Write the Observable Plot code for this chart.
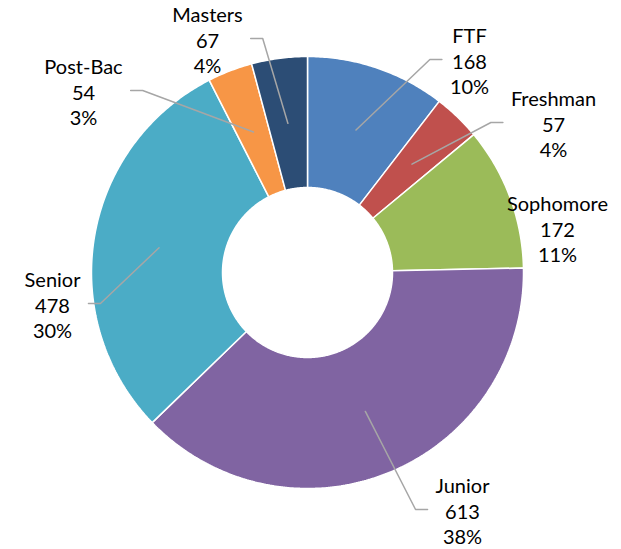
<!DOCTYPE html>
<html><head><meta charset="utf-8">
<script src="https://cdn.jsdelivr.net/npm/d3@7"></script>
<script src="https://cdn.jsdelivr.net/npm/@observablehq/plot@0.6"></script>
<style>body{margin:0;background:#fff}</style>
</head><body><div id="chart"></div>
<script>
// Data
const categories = ["FTF","Freshman","Sophomore","Junior","Senior","Post-Bac","Masters"];
const counts = [168,57,172,613,478,54,67];
const colors = ["#4F81BD","#C0504D","#9BBB59","#8064A2","#4BACC6","#F79646","#2C4D75"];
// Label layout (pixel positions of the middle text line)
const labelX = [469,553,557,462,52,83,207];
const labelY = [60,123,228,510,304,91,39];
const hasLeader = [true,true,false,true,true,true,true];

const W = 621, H = 549, cx = 307, cy = 272, rOuter = 216, rInner = 85;
const FONT = 20, FAMILY = "Lato";

const total = d3.sum(counts);
const arcs = d3.pie().sort(null).value(d => d)(counts);
const px = (r, a) => cx + r * Math.sin(a);
const py = (r, a) => cy - r * Math.cos(a);

const sliceMarks = arcs.map((arc, i) => {
  const pts = [];
  const n = Math.max(4, Math.ceil((arc.endAngle - arc.startAngle) / 0.01));
  for (let k = 0; k <= n; k++) {
    const a = arc.startAngle + (arc.endAngle - arc.startAngle) * k / n;
    pts.push({x: px(rOuter, a), y: py(rOuter, a)});
  }
  for (let k = n; k >= 0; k--) {
    const a = arc.startAngle + (arc.endAngle - arc.startAngle) * k / n;
    pts.push({x: px(rInner, a), y: py(rInner, a)});
  }
  pts.push(pts[0]);
  return Plot.line(pts, {x: "x", y: "y", fill: colors[i], stroke: "white", strokeWidth: 1.5, strokeLinejoin: "miter"});
});

const ctx = document.createElement("canvas").getContext("2d");
ctx.font = `${FONT}px ${FAMILY}`;

const labels = categories.map((c, i) => ({
  key: c,
  x: labelX[i],
  y: labelY[i],
  text: `${c}\n${counts[i]}\n${Math.round(counts[i] / total * 100)}%`
}));

const leaders = [];
arcs.forEach((arc, i) => {
  if (!hasLeader[i]) return;
  const mid = (arc.startAngle + arc.endAngle) / 2;
  const rm = (rInner + rOuter) / 2;
  const sx = px(rm, mid), sy = py(rm, mid);
  const lines = labels[i].text.split("\n");
  const hw = d3.max(lines, l => ctx.measureText(l).width) / 2;
  const right = sx < labelX[i];
  const ex = right ? labelX[i] - hw - 8 : labelX[i] + hw + 8;
  const bx = right ? ex - 12 : ex + 12;
  const ly = labelY[i] - 1;
  leaders.push({key: categories[i], x: sx, y: sy});
  leaders.push({key: categories[i], x: bx, y: ly});
  leaders.push({key: categories[i], x: ex, y: ly});
});

const chart = Plot.plot({
  width: W, height: H, margin: 0,
  x: {domain: [0, W], range: [0, W], axis: null},
  y: {domain: [0, H], range: [0, H], axis: null},
  marks: [
    ...sliceMarks,
    Plot.line(leaders, {x: "x", y: "y", z: "key", stroke: "#A6A6A6", strokeWidth: 1.5}),
    Plot.text(labels, {x: "x", y: "y", text: "text", fontSize: FONT, fontFamily: FAMILY, lineHeight: 1.28, fill: "#000", textAnchor: "middle", lineAnchor: "middle"})
  ]
});
document.getElementById("chart").appendChild(chart);
</script>
</body></html>
